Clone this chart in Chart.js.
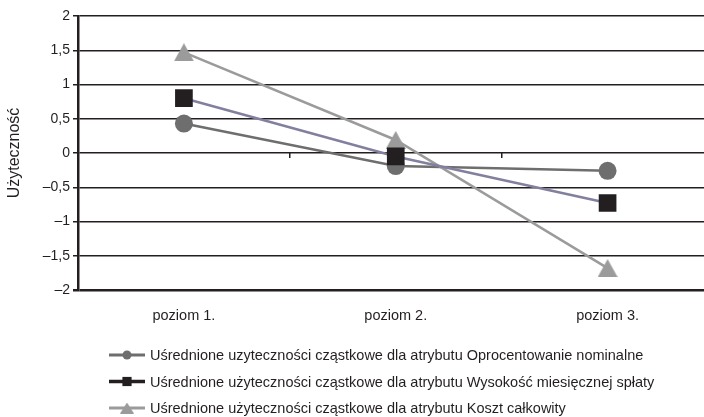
<!DOCTYPE html>
<html>
<head>
<meta charset="utf-8">
<script src="https://cdn.jsdelivr.net/npm/chart.js@4/dist/chart.umd.min.js"></script>
<style>
    html, body { margin: 0; padding: 0; overflow: hidden; background: #fff; }
    #wrap { width: 726px; height: 417px; }
</style>
</head>
<body>
<div id="wrap"><canvas id="chart" width="726" height="417"></canvas></div>
<script>
// Chart data
const categories = ['poziom 1.', 'poziom 2.', 'poziom 3.'];
const oprocentowanie = [0.43, -0.19, -0.26];
const wysokoscSplaty = [0.80, -0.05, -0.73];
const kosztCalkowity = [1.47, 0.19, -1.68];
const seriesLabels = [
    'Uśrednione uzyteczności cząstkowe dla atrybutu Oprocentowanie nominalne',
    'Uśrednione użyteczności cząstkowe dla atrybutu Wysokość miesięcznej spłaty',
    'Uśrednione użyteczności cząstkowe dla atrybutu Koszt całkowity'
];
const yTitle = 'Użyteczność';

const FONT = "'Liberation Sans', Arial, sans-serif";

function formatTick(v) {
    // polish decimal comma and typographic minus
    return String(v).replace('.', ',').replace('-', '–');
}

// triangle centred on its bounding box (Excel style), used as pointStyle image
function makeTriangle(w, h, color) {
    const c = document.createElement('canvas');
    c.width = w;
    c.height = h;
    const g = c.getContext('2d');
    g.fillStyle = color;
    g.beginPath();
    g.moveTo(w / 2, 0);
    g.lineTo(w, h);
    g.lineTo(0, h);
    g.closePath();
    g.fill();
    return c;
}
const triBig = makeTriangle(20, 18, '#9b9b9b');
const triSmall = makeTriangle(14, 11, '#9b9b9b');

// legend with a line and marker, like the original
const lineLegend = {
    id: 'lineLegend',
    afterDraw(chart) {
        const ctx = chart.ctx;
        const x0 = 109, lineLen = 36, rowH = 26.5, y0 = 355;
        ctx.save();
        chart.data.datasets.forEach((ds, i) => {
            const y = y0 + i * rowH;
            ctx.strokeStyle = ds.legendLine;
            ctx.lineWidth = ds.legendWidth;
            ctx.beginPath();
            ctx.moveTo(x0, y);
            ctx.lineTo(x0 + lineLen, y);
            ctx.stroke();
            ctx.fillStyle = ds.pointBackgroundColor;
            Chart.helpers.drawPoint(ctx, {
                pointStyle: ds.legendStyle || ds.pointStyle,
                radius: ds.legendRadius,
                rotation: 0,
                borderWidth: 0
            }, x0 + lineLen / 2, y);
            ctx.fillStyle = '#231f20';
            ctx.font = '14.5px ' + FONT;
            ctx.textBaseline = 'middle';
            ctx.fillText(ds.label, x0 + lineLen + 5, y + 1);
        });
        ctx.restore();
    }
};

const ctx = document.getElementById('chart').getContext('2d');
const chart = new Chart(ctx, {
    type: 'line',
    data: {
        labels: categories,
        datasets: [
            {
                label: seriesLabels[0],
                data: oprocentowanie,
                order: 2,
                borderColor: '#6e6e6e',
                legendLine: '#6e6e6e',
                legendWidth: 3,
                legendRadius: 4.5,
                borderWidth: 2.5,
                pointStyle: 'circle',
                pointRadius: 9,
                pointBackgroundColor: '#6e6e6e',
                pointBorderWidth: 0,
                tension: 0
            },
            {
                label: seriesLabels[1],
                data: wysokoscSplaty,
                order: 0,
                borderColor: '#82809e',
                legendLine: '#231f20',
                legendWidth: 3.5,
                legendRadius: 6.5,
                borderWidth: 2.5,
                pointStyle: 'rect',
                pointRadius: 12.5,
                pointBackgroundColor: '#231f20',
                pointBorderWidth: 0,
                tension: 0
            },
            {
                label: seriesLabels[2],
                data: kosztCalkowity,
                order: 1,
                borderColor: '#9b9b9b',
                legendLine: '#9b9b9b',
                legendWidth: 3,
                legendRadius: 7,
                legendStyle: triSmall,
                borderWidth: 2.5,
                pointStyle: triBig,
                pointRadius: 10,
                pointBackgroundColor: '#9b9b9b',
                pointBorderWidth: 0,
                tension: 0
            }
        ]
    },
    options: {
        responsive: false,
        animation: false,
        layout: { padding: { top: 16, right: 0, bottom: 90, left: 0 } },
        plugins: {
            legend: { display: false },
            tooltip: { enabled: false }
        },
        scales: {
            x: {
                offset: true,
                grid: { display: false },
                border: { display: false },
                ticks: { color: '#231f20', font: { family: FONT, size: 14.5 }, padding: 9 },
                afterFit: (scale) => { scale.height = 37; }
            },
            x2: {
                // small category ticks sitting on the zero line
                type: 'category',
                labels: categories,
                position: { y: 0 },
                offset: true,
                grid: { offset: true, drawOnChartArea: false, tickLength: 5, color: '#231f20', lineWidth: 1.5 },
                border: { display: false },
                ticks: { display: false }
            },
            y: {
                min: -2,
                max: 2,
                ticks: {
                    stepSize: 0.5,
                    color: '#231f20',
                    font: { family: FONT, size: 14 },
                    padding: 3,
                    callback: (v) => formatTick(v)
                },
                grid: {
                    color: '#231f20',
                    lineWidth: (c) => (c.tick && c.tick.value === -2 ? 2.5 : 1.5),
                    tickLength: 5
                },
                border: { display: true, color: '#231f20', width: 2.5 },
                title: {
                    display: true,
                    text: yTitle,
                    color: '#231f20',
                    font: { family: FONT, size: 16 },
                    padding: { top: 5, bottom: 4 }
                },
                afterFit: (scale) => { scale.width = 78; }
            }
        }
    },
    plugins: [lineLegend]
});
</script>
</body>
</html>
